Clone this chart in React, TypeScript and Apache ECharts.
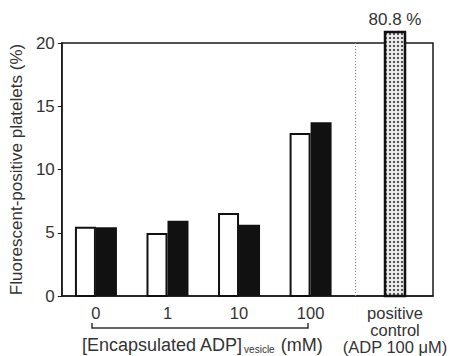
import React, { useEffect, useRef } from "react";
import * as echarts from "echarts";

// ---- data ----
const groupLabels = ["0", "1", "10", "100"];
const groupPositions = [1, 2, 3, 4];
const openValues = [5.4, 4.9, 6.48, 12.8];
const filledValues = [5.35, 5.87, 5.56, 13.65];
const controlLabel = "positive\ncontrol\n(ADP 100 μM)";
const controlPosition = 5.18;
const controlValue = 80.8;
const dividerPosition = 4.626;
const yMin = 0;
const yMax = 20;
const yInterval = 5;
const xMin = 0.523;
const xMax = 5.711;

const FONT = 'Arial, "Liberation Sans", Helvetica, sans-serif';
const TEXT = "#333";

function makePattern(): any {
  const c = document.createElement("canvas");
  c.width = 4;
  c.height = 4;
  const ctx = c.getContext("2d");
  if (!ctx) return "#bbb";
  ctx.fillStyle = "#e8e8e8";
  ctx.fillRect(0, 0, 4, 4);
  ctx.fillStyle = "#555";
  ctx.fillRect(1, 1, 2, 2);
  return { image: c.toDataURL(), repeat: "repeat", imageWidth: 4, imageHeight: 4 };
}

export default function App() {
  const ref = useRef<HTMLDivElement>(null);
  useEffect(() => {
    if (!ref.current) return;
    const chart = echarts.init(ref.current, undefined, { renderer: "svg" });
    const pattern = makePattern();

    const barData: any[] = [];
    groupPositions.forEach((p, i) => {
      barData.push([p, openValues[i], 0]);
      barData.push([p, filledValues[i], 1]);
    });
    barData.push([controlPosition, controlValue, 2]);

    const allLabels: Record<string, string> = {};
    groupPositions.forEach((p, i) => (allLabels[String(p)] = groupLabels[i]));
    allLabels[String(controlPosition)] = controlLabel;

    chart.setOption({
      animation: false,
      grid: {
        left: 61,
        right: 27,
        top: 43,
        bottom: 60,
        show: true,
        borderColor: "#1a1a1a",
        borderWidth: 1.5,
        backgroundColor: "transparent",
      },
      xAxis: {
        type: "value",
        min: xMin,
        max: xMax,
        axisLine: { show: true, lineStyle: { color: "#1a1a1a", width: 1.5 } },
        axisTick: { show: false },
        splitLine: { show: false },
        axisLabel: {
          customValues: [...groupPositions, controlPosition],
          formatter: (v: number) => {
            const k = Object.keys(allLabels).find((s) => Math.abs(Number(s) - v) < 1e-6);
            return k ? allLabels[k] : "";
          },
          color: TEXT,
          fontFamily: FONT,
          fontSize: 16.5,
          lineHeight: 17,
          margin: 8,
          showMinLabel: true,
          showMaxLabel: true,
        },
      },
      yAxis: {
        type: "value",
        min: yMin,
        max: yMax,
        interval: yInterval,
        name: "Fluorescent-positive platelets (%)",
        nameLocation: "middle",
        nameRotate: 90,
        nameGap: 33,
        nameTextStyle: { color: TEXT, fontFamily: FONT, fontSize: 17 },
        axisLine: { show: true, lineStyle: { color: "#1a1a1a", width: 1.5 } },
        axisTick: { show: true, length: 4, lineStyle: { color: "#1a1a1a", width: 1 } },
        splitLine: { show: false },
        axisLabel: { color: TEXT, fontFamily: FONT, fontSize: 17, margin: 7 },
      },
      graphic: [
        {
          type: "polyline",
          shape: { points: [[92, 323], [92, 328], [308, 328], [308, 323]] },
          style: { stroke: "#333", lineWidth: 1.5, fill: "none" },
        },
        {
          type: "text",
          x: 82,
          y: 345,
          style: {
            text: "[Encapsulated ADP]{sub|vesicle} (mM)",
            fill: TEXT,
            font: `18px ${FONT}`,
            verticalAlign: "middle",
            rich: {
              sub: { fontSize: 10, fontFamily: FONT, fill: TEXT, padding: [8, 1, 0, 1] },
            },
          },
        },
      ],
      series: [
        {
          type: "custom",
          clip: false,
          data: barData,
          renderItem: (params: any, api: any) => {
            const x = api.value(0);
            const v = api.value(1);
            const kind = api.value(2);
            const base = api.coord([x, 0]);
            const top = api.coord([x, Math.min(v, yMax)]);
            const w = kind === 2 ? 22 : 21;
            let left: number;
            if (kind === 0) left = base[0] - w;
            else if (kind === 1) left = base[0];
            else left = base[0] - w / 2;
            let topY = top[1];
            if (kind === 2) topY = api.coord([x, yMax])[1] - 11;
            const h = base[1] - topY;
            const children: any[] = [];
            if (kind === 0) {
              children.push({
                type: "rect",
                shape: { x: left + 1, y: topY, width: w - 2, height: h },
                style: { fill: "#fff", stroke: "#111", lineWidth: 2 },
              });
            } else if (kind === 1) {
              children.push({
                type: "rect",
                shape: { x: left, y: topY - 1, width: w, height: h + 1 },
                style: { fill: "#111", stroke: "#111", lineWidth: 0 },
              });
            } else {
              children.push({
                type: "rect",
                shape: { x: left + 1, y: topY, width: w - 2, height: h },
                style: { fill: pattern, stroke: "#111", lineWidth: 2.5 },
              });
              children.push({
                type: "text",
                x: base[0],
                y: topY - 4,
                style: {
                  text: `${v} %`,
                  fill: TEXT,
                  font: `17px ${FONT}`,
                  align: "center",
                  verticalAlign: "bottom",
                },
              });
            }
            return { type: "group", children };
          },
          markLine: {
            silent: true,
            symbol: "none",
            label: { show: false },
            lineStyle: { color: "#888", type: [1, 2], width: 1 },
            data: [{ xAxis: dividerPosition }],
          },
        },
      ],
    });
    return () => chart.dispose();
  }, []);
  return <div ref={ref} style={{ width: 460, height: 356, position: "absolute", left: 0, top: 0 }} />;
}
